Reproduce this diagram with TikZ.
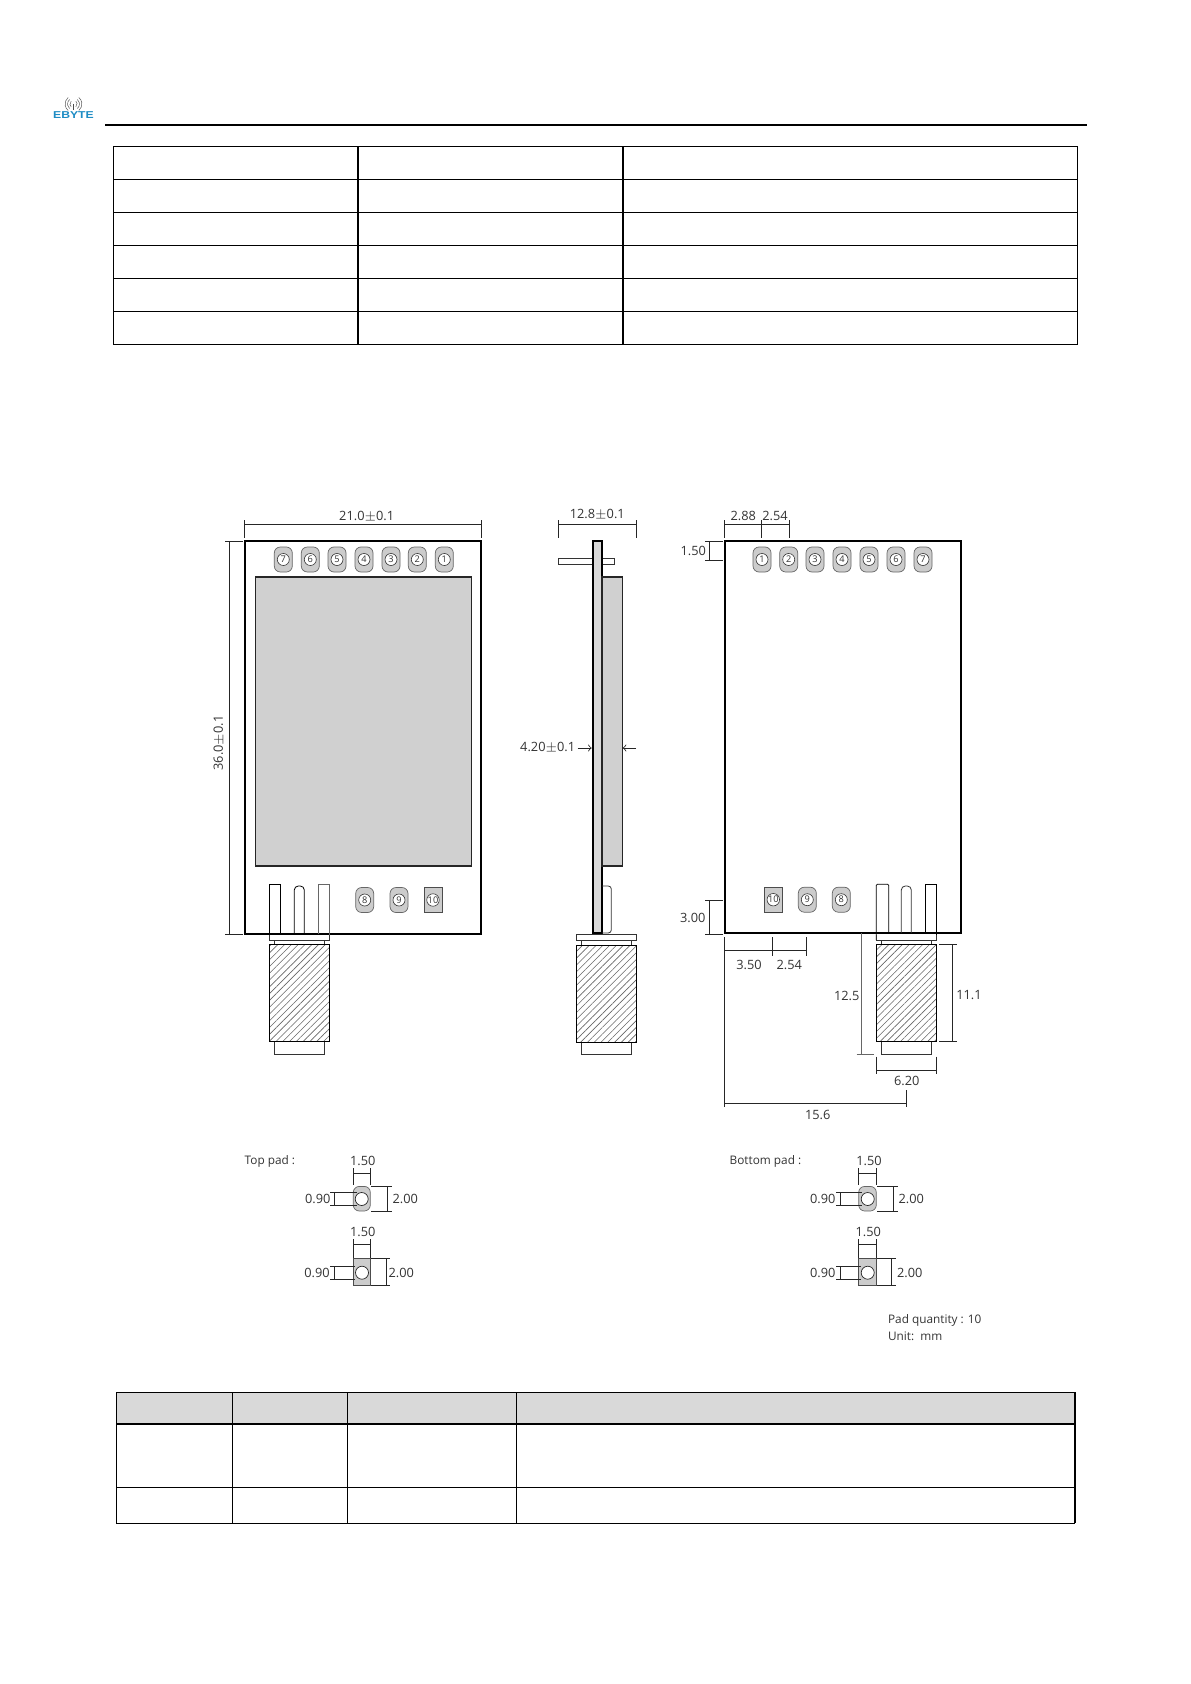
\documentclass[tikz,border=0pt]{standalone}
\usepackage{fontspec}
\setmainfont{Open Sans}
\newfontfamily\logofont{Liberation Sans}
\usetikzlibrary{patterns.meta}
\definecolor{padgray}{HTML}{CCCCCC}
\definecolor{modgray}{HTML}{D0D0D0}
\definecolor{headgray}{HTML}{D9D9D9}
\definecolor{labelgray}{HTML}{333333}
\definecolor{logoblue}{HTML}{1E8CC4}
\tikzset{
    board/.style={draw=black, line width=1.1pt, fill=white},
    module/.style={draw=black!85, line width=0.8pt, fill=modgray},
    tableline/.style={draw=black, line width=0.55pt},
    dimline/.style={draw=black!85, line width=0.4pt},
    thinpart/.style={draw=black!80, line width=0.4pt, fill=white},
    hatched/.style={draw=black, line width=0.45pt, pattern={Lines[angle=45,distance=2.4pt,line width=0.3pt]}, pattern color=black!60},
    dimtext/.style={font=\fontsize{6.4}{8}\selectfont, text=labelgray, inner sep=0pt},
    wordtext/.style={font=\fontsize{5.9}{8}\selectfont, text=labelgray, inner sep=0pt, anchor=west},
    padround/.style={draw=black!60, line width=0.35pt, fill=padgray, rounded corners=3pt, minimum width=9pt, minimum height=12.5pt, inner sep=0pt},
    padsquare/.style={draw=black!70, line width=0.35pt, fill=padgray, minimum width=9pt, minimum height=12.5pt, inner sep=0pt},
    padnum/.style={circle, draw=black!80, line width=0.3pt, fill=white, minimum size=6pt, inner sep=0pt, font=\fontsize{4.6}{5}\selectfont, text=labelgray},
    padhole/.style={circle, draw=black!85, line width=0.35pt, fill=white, minimum size=6.5pt, inner sep=0pt}
}

\begin{document}
\begin{tikzpicture}[x=0.5pt, y=-0.5pt]

\useasboundingbox (0,0) rectangle (1190,1684);

% header
\draw [black, line width=1pt] (105,124.7) -- (1087,124.7);
\node[font=\logofont\bfseries\fontsize{5}{5}\selectfont, text=logoblue, xscale=1.22, inner sep=0pt] (logo) at (73.5,115.5) {EBYTE};
\foreach \r in {1.8,3,4.2} {
    \draw [black!65, line width=0.25pt] ([shift={(73.5,104)}]130:\r pt) arc[start angle=130, end angle=230, radius=\r pt];
    \draw [black!65, line width=0.25pt] ([shift={(73.5,104)}]-50:\r pt) arc[start angle=-50, end angle=50, radius=\r pt];
}
\draw [black!70, line width=0.6pt] (73.5,104) -- (73.5,110);

% top table
\foreach \y in {146.3,179.3,212.3,245.3,278.3,311.3,344.3} {
    \draw [tableline] (113.3,\y) -- (1077.5,\y);
}
\foreach \x in {113.3,358,623,1077.5} {
    \draw [tableline] (\x,146.3) -- (\x,344.3);
}

% left view
\filldraw [board] (245,541) rectangle (481.3,933.7);
\filldraw [module] (255.3,577) rectangle (471.3,865.7);
\foreach \n/\x in {7/283.3,6/310.3,5/337,4/364,3/391,2/417.3,1/444.3} {
    \node[padround] (lp\n) at (\x,559.5) {};
    \node[padnum] (ln\n) at (lp\n) {\n};
}
\node[padround] (lp8) at (364.7,900) {};
\node[padnum] (ln8) at (lp8) {8};
\node[padround] (lp9) at (399,900) {};
\node[padnum] (ln9) at (lp9) {9};
\node[padsquare] (lp10) at (433,900) {};
\node[padnum] (ln10) at (lp10) {10};

\draw [thinpart, fill=none, draw=black] (269.3,940) -- (269.3,884.3) -- (280.3,884.3) -- (280.3,934);
\draw [thinpart, fill=none, draw=black, rounded corners=2pt] (294.3,934) -- (294.3,886) -- (304.3,886) -- (304.3,934);
\draw [thinpart, fill=none, draw=black!60] (318.3,934) -- (318.3,884.3) -- (329.3,884.3) -- (329.3,940);
\draw [thinpart, fill=none] (269.3,935) -- (269.3,940) -- (329.3,940) -- (329.3,935);
\draw [thinpart] (274.3,940) rectangle (324.3,944.3);
\filldraw [thinpart] (274.3,1041.3) rectangle (324.3,1054.3);
\filldraw [hatched] (269.3,944.3) rectangle (329.3,1041.3);

\draw [dimline] (244.3,520) -- (244.3,537.7) (481.3,520) -- (481.3,537.7) (244.3,524.3) -- (481.3,524.3);
\node[dimtext] (lwidth) at (366.7,516.5) {21.0$\pm$0.1};
\draw [dimline] (225,541) -- (243.3,541) (225,934.3) -- (243.3,934.3) (229.3,541) -- (229.3,934.3);
\node[dimtext, rotate=90] (lheight) at (219,743) {36.0$\pm$0.1};

% side view
\filldraw [thinpart] (558.3,558.7) rectangle (614.3,564.3);
\filldraw [board, fill=black!15] (593,541) rectangle (602,933);
\filldraw [module] (602,577) rectangle (622.3,866);
\draw [thinpart, fill=none, rounded corners=1.5pt] (602,886) -- (611.3,886) -- (611.3,933) -- (602,933);
\filldraw [thinpart] (576.3,934.7) rectangle (636.7,940.7);
\filldraw [thinpart] (581.3,940.7) rectangle (631.7,945.3);
\filldraw [thinpart] (581.3,1042.3) rectangle (631.7,1054.3);
\filldraw [hatched] (576.3,945.3) rectangle (636.7,1042.3);

\draw [dimline] (558.3,520) -- (558.3,537.7) (636.7,520) -- (636.7,537.7) (558.3,524.3) -- (636.7,524.3);
\node[dimtext] (swidth) at (597.3,514.5) {12.8$\pm$0.1};
\node[dimtext] (sthick) at (547.7,748) {4.20$\pm$0.1};
\draw [dimline, ->] (577.7,748) -- (591.7,748);
\draw [dimline, ->] (636,748) -- (622.7,748);

% right view
\filldraw [board] (725,541) rectangle (961.3,933);
\foreach \n/\x in {1/762,2/788.7,3/815,4/842,5/869,6/896,7/923} {
    \node[padround] (rp\n) at (\x,559.5) {};
    \node[padnum] (rn\n) at (rp\n) {\n};
}
\node[padsquare] (rp10) at (773.3,899.7) {};
\node[padnum] (rn10) at (rp10) {10};
\node[padround] (rp9) at (807.3,899.7) {};
\node[padnum] (rn9) at (rp9) {9};
\node[padround] (rp8) at (841.3,899.7) {};
\node[padnum] (rn8) at (rp8) {8};

\draw [thinpart, fill=none, draw=black, rounded corners=0.5pt] (876.3,940) -- (876.3,884.3) -- (888.7,884.3) -- (888.7,933);
\draw [thinpart, fill=none, rounded corners=2pt] (901.3,933) -- (901.3,886) -- (911.3,886) -- (911.3,933);
\draw [thinpart, fill=none, draw=black] (925.3,933) -- (925.3,884.3) -- (936.3,884.3) -- (936.3,940);
\draw [thinpart, fill=none] (876.3,935) -- (876.3,940) -- (936.3,940) -- (936.3,935);
\draw [thinpart] (881.3,940) rectangle (931.7,944.3);
\filldraw [thinpart] (881.3,1041.3) rectangle (931.7,1054.3);
\filldraw [hatched] (876.3,944.3) rectangle (936.3,1041.3);

\draw [dimline] (724.3,520) -- (724.3,537.7) (761.3,520) -- (761.3,537.7) (789.3,520) -- (789.3,537.7) (724.3,524.3) -- (789.3,524.3);
\node[dimtext] (d288) at (743.3,516) {2.88};
\node[dimtext] (d254) at (775,516) {2.54};
\draw [dimline] (705,541) -- (723.3,541) (705,560.3) -- (723.3,560.3) (709.7,541) -- (709.7,560.3);
\node[dimtext] (d150) at (693.3,551) {1.50};
\draw [dimline] (705,900) -- (723,900) (705,934) -- (723,934) (709.7,900) -- (709.7,934);
\node[dimtext] (d300) at (692.7,918) {3.00};
\draw [dimline] (724.3,937.3) -- (724.3,1107.3) (772.7,937.3) -- (772.7,955.7) (806.3,937.3) -- (806.3,955.7) (724.3,950.3) -- (806.3,950.3);
\node[dimtext] (d350) at (749,964.5) {3.50};
\node[dimtext] (d254b) at (789.3,964.5) {2.54};
\draw [dimline, draw=black!60] (861.3,933) -- (861.3,1054.3) (856.7,1054.3) -- (874,1054.3);
\node[dimtext] (d125) at (846.7,996) {12.5};
\draw [dimline] (939,944.3) -- (956.7,944.3) (939,1041.3) -- (956.7,1041.3) (952.7,944.3) -- (952.7,1041.3);
\node[dimtext] (d111) at (969,995) {11.1};
\draw [dimline] (876.3,1056.7) -- (876.3,1074.3) (936.3,1056.7) -- (936.3,1074.3) (876.3,1070.3) -- (936.3,1070.3);
\node[dimtext] (d620) at (906.7,1080.5) {6.20};
\draw [dimline] (906.3,1090) -- (906.3,1107.3) (724.3,1103.3) -- (906.3,1103.3);
\node[dimtext] (d156) at (817.7,1115) {15.6};

% top pad
\node[wordtext] (toppad) at (244.3,1161.5) {Top pad :};
\node[padround, minimum width=8.5pt, minimum height=12.3pt] (tp1) at (361.8,1198.7) {};
\node[padhole] (th1) at (361.7,1199) {};
\draw [dimline] (353.3,1168.3) -- (353.3,1185) (370.3,1168.3) -- (370.3,1185) (353.3,1173) -- (370.3,1173);
\node[dimtext] (tw1) at (362.7,1160.7) {1.50};
\draw [dimline] (330,1192.3) -- (356.7,1192.3) (330,1205.7) -- (356.7,1205.7) (334.7,1192.3) -- (334.7,1205.7);
\node[dimtext] (th90) at (317.7,1199.3) {0.90};
\draw [dimline] (371,1186.3) -- (392,1186.3) (371,1211) -- (392,1211) (387,1186.3) -- (387,1211);
\node[dimtext] (th20) at (405.3,1199.3) {2.00};

\node[padsquare, minimum width=8.5pt, minimum height=13.3pt] (tp2) at (361.8,1272) {};
\node[padhole] (th2) at (362,1272.7) {};
\draw [dimline] (353.3,1239) -- (353.3,1257.7) (370.3,1239) -- (370.3,1257.7) (353.3,1244.3) -- (370.3,1244.3);
\node[dimtext] (tw2) at (362.7,1231.7) {1.50};
\draw [dimline] (330,1266.3) -- (355,1266.3) (330,1279.3) -- (355,1279.3) (334.7,1266.3) -- (334.7,1279.3);
\node[dimtext] (th91) at (317,1273) {0.90};
\draw [dimline] (371.3,1258.7) -- (390.3,1258.7) (371.3,1285.3) -- (390.3,1285.3) (386,1258.7) -- (386,1285.3);
\node[dimtext] (th21) at (401.3,1273) {2.00};

% bottom pad
\node[wordtext] (botpad) at (729.3,1161) {Bottom pad :};
\node[padround, minimum width=8.8pt, minimum height=12.3pt] (bp1) at (867.5,1198.7) {};
\node[padhole] (bh1) at (867.7,1199) {};
\draw [dimline] (858.7,1168.3) -- (858.7,1185) (876.3,1168.3) -- (876.3,1185) (858.7,1173) -- (876.3,1173);
\node[dimtext] (bw1) at (869,1160.7) {1.50};
\draw [dimline] (836,1192.3) -- (861.7,1192.3) (836,1205.7) -- (861.7,1205.7) (840,1192.3) -- (840,1205.7);
\node[dimtext] (bh90) at (822.7,1199.3) {0.90};
\draw [dimline] (877,1186.3) -- (898.3,1186.3) (877,1211) -- (898.3,1211) (893.7,1186.3) -- (893.7,1211);
\node[dimtext] (bh20) at (911.3,1199.3) {2.00};

\node[padsquare, minimum width=8.8pt, minimum height=13.3pt] (bp2) at (867.5,1272) {};
\node[padhole] (bh2) at (867.7,1272.7) {};
\draw [dimline] (858.7,1239) -- (858.7,1257.7) (876.3,1239) -- (876.3,1257.7) (858.7,1244.3) -- (876.3,1244.3);
\node[dimtext] (bw2) at (868.3,1231.7) {1.50};
\draw [dimline] (836,1266.3) -- (861,1266.3) (836,1279.3) -- (861,1279.3) (840,1266.3) -- (840,1279.3);
\node[dimtext] (bh91) at (822.7,1273) {0.90};
\draw [dimline] (877,1258.7) -- (895.7,1258.7) (877,1285.3) -- (895.7,1285.3) (891.3,1258.7) -- (891.3,1285.3);
\node[dimtext] (bh21) at (909.7,1273) {2.00};

\node[wordtext] (padqty) at (887.7,1320.7) {Pad quantity : 10};
\node[wordtext] (unit) at (887.7,1336) {Unit:\ \ mm};

% bottom table
\fill [headgray] (116.3,1392.3) rectangle (1075,1424);
\foreach \y in {1392.3,1424,1487.3,1523.3} {
    \draw [tableline] (116.3,\y) -- (1075,\y);
}
\foreach \x in {116.3,232.3,347.3,516.3,1075} {
    \draw [tableline] (\x,1392.3) -- (\x,1523.3);
}

\end{tikzpicture}
\end{document}
